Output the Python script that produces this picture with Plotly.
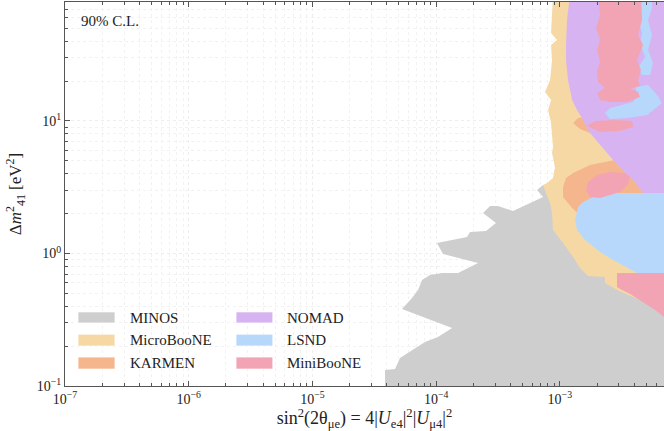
import numpy as np
import plotly.graph_objects as go

# ---- Data: region outlines in log10 units (x = log10 sin^2(2theta_mue), y = log10 dm41^2 / eV^2)
minos_lx = [-4.413, -4.413, -4.332, -4.292, -4.090, -3.985, -3.871, -4.276, -4.195, -4.146, -4.114,
            -4.049, -3.952, -3.823, -3.661, -3.944, -3.993, -3.750, -3.726, -3.597, -3.516, -3.621,
            -3.564, -3.500, -3.378, -3.136, -3.184, -3.136, -2.0, -2.0]
minos_ly = [-1.05, -0.879, -0.872, -0.789, -0.668, -0.630, -0.562, -0.419, -0.336, -0.275, -0.200,
            -0.162, -0.147, -0.147, -0.072, -0.004, 0.079, 0.125, 0.162, 0.170, 0.230, 0.306,
            0.358, 0.358, 0.321, 0.426, 0.479, 0.517, 0.517, -1.05]

microboone_lx = [-3.055, -3.063, -3.071, -3.023, -3.071, -3.063, -3.079, -3.120, -3.071, -3.095, -3.071,
                 -3.055, -3.063, -3.039, -3.055, -3.103, -3.136, -3.112, -3.079, -3.063, -3.055, -2.974,
                 -2.893, -2.837, -2.796, -2.772, -2.635, -2.635, -2.538, -2.352, -2.0, -2.0]
microboone_ly = [1.95, 1.838, 1.664, 1.611, 1.574, 1.460, 1.309, 1.219, 1.158, 1.083, 0.985,
                 0.804, 0.758, 0.653, 0.570, 0.532, 0.517, 0.457, 0.381, 0.306, 0.177, 0.079,
                 -0.026, -0.109, -0.147, -0.170, -0.177, -0.223, -0.275, -0.351, -0.351, 1.95]

karmen_low_lx = [-2.974, -2.950, -2.893, -2.756, -2.635, -2.554, -2.0, -2.0, -2.756, -2.861, -2.901, -2.974]
karmen_low_ly = [0.502, 0.570, 0.608, 0.668, 0.691, 0.706, 0.706, 0.215, 0.215, 0.306, 0.343, 0.426]
karmen_up_lx = [-2.893, -2.853, -2.756, -2.594, -2.594, -2.756, -2.837]
karmen_up_ly = [0.985, 1.023, 1.038, 1.023, 0.917, 0.909, 0.940]

nomad_lx = [-2.918, -2.942, -2.950, -2.950, -2.934, -2.901, -2.861, -2.812, -2.756, -2.675, -2.570,
            -2.473, -2.408, -2.327, -2.0, -2.0]
nomad_ly = [1.95, 1.762, 1.574, 1.460, 1.309, 1.158, 1.083, 1.008, 0.909, 0.819, 0.706,
            0.608, 0.555, 0.457, 0.457, 1.95]

lsnd_low_lx = [-2.594, -2.699, -2.812, -2.853, -2.877, -2.861, -2.796, -2.675, -2.570, -2.457, -2.376,
               -2.0, -2.0]
lsnd_low_ly = [0.457, 0.442, 0.389, 0.351, 0.253, 0.177, 0.102, 0.011, -0.049, -0.109, -0.147,
               -0.147, 0.457]
lsnd_strip_lx = [-2.352, -2.368, -2.335, -2.352, -2.311, -2.368, -2.335, -2.271, -2.247, -2.287,
                 -2.255, -2.287, -2.255, -2.255]
lsnd_strip_ly = [1.95, 1.762, 1.664, 1.589, 1.483, 1.400, 1.347, 1.347, 1.438, 1.536,
                 1.649, 1.762, 1.853, 1.95]
lsnd_blob_lx = [-2.635, -2.594, -2.408, -2.368, -2.392, -2.287, -2.214, -2.174, -2.295, -2.457, -2.594]
lsnd_blob_ly = [1.060, 1.098, 1.143, 1.196, 1.257, 1.272, 1.196, 1.136, 1.045, 1.023, 1.015]

miniboone_col_lx = [-2.691, -2.675, -2.707, -2.675, -2.699, -2.675, -2.699, -2.691, -2.635, -2.699,
                    -2.675, -2.594, -2.457, -2.352, -2.368, -2.432, -2.352, -2.368, -2.344, -2.376,
                    -2.327, -2.368, -2.335, -2.344]
miniboone_col_ly = [1.95, 1.800, 1.702, 1.611, 1.536, 1.445, 1.370, 1.294, 1.249, 1.211,
                    1.158, 1.143, 1.143, 1.181, 1.219, 1.242, 1.264, 1.309, 1.385, 1.460,
                    1.574, 1.649, 1.762, 1.95]
miniboone_mid_lx = [-2.780, -2.715, -2.554, -2.416, -2.408, -2.513, -2.675]
miniboone_mid_ly = [0.962, 1.000, 1.008, 1.000, 0.955, 0.925, 0.917]
miniboone_low_lx = [-2.788, -2.772, -2.699, -2.594, -2.473, -2.432, -2.449, -2.513, -2.675, -2.756]
miniboone_low_ly = [0.479, 0.540, 0.592, 0.615, 0.608, 0.577, 0.517, 0.464, 0.419, 0.426]
miniboone_br_lx = [-2.538, -2.0, -2.0, -2.158, -2.230, -2.352, -2.432, -2.513, -2.538]
miniboone_br_ly = [-0.147, -0.147, -0.479, -0.479, -0.426, -0.351, -0.306, -0.268, -0.253]

x_tick_vals = [1e-7, 1e-6, 1e-5, 1e-4, 1e-3]
x_tick_text = ["10<sup>−7</sup>", "10<sup>−6</sup>", "10<sup>−5</sup>", "10<sup>−4</sup>", "10<sup>−3</sup>"]
y_tick_vals = [0.1, 1, 10]
y_tick_text = ["10<sup>−1</sup>", "10<sup>0</sup>", "10<sup>1</sup>"]

experiments = [
    ("MINOS", "#cecece", [(minos_lx, minos_ly)]),
    ("MicroBooNE", "#f6d8a5", [(microboone_lx, microboone_ly)]),
    ("KARMEN", "#f5b68d", [(karmen_low_lx, karmen_low_ly), (karmen_up_lx, karmen_up_ly)]),
    ("NOMAD", "#d7b4f1", [(nomad_lx, nomad_ly)]),
    ("LSND", "#b8d8fb", [(lsnd_low_lx, lsnd_low_ly), (lsnd_strip_lx, lsnd_strip_ly),
                         (lsnd_blob_lx, lsnd_blob_ly)]),
    ("MiniBooNE", "#f2a4b5", [(miniboone_col_lx, miniboone_col_ly), (miniboone_mid_lx, miniboone_mid_ly),
                              (miniboone_low_lx, miniboone_low_ly), (miniboone_br_lx, miniboone_br_ly)]),
]

legend_order = [["MINOS", "MicroBooNE", "KARMEN"], ["NOMAD", "LSND", "MiniBooNE"]]

FONT = "Liberation Serif"
fig = go.Figure()
for name, color, parts in experiments:
    for i, (lx, ly) in enumerate(parts):
        fig.add_trace(go.Scatter(
            x=np.power(10.0, lx), y=np.power(10.0, ly), mode="lines",
            fill="toself", fillcolor=color, line=dict(width=0, color=color),
            name=name, legendgroup=name, showlegend=False, hoverinfo="name"))

# manual legend (wide swatches like the reference)
colors = {n: c for n, c, _ in experiments}
col_x = [(0.0217, 0.0835, 0.105), (0.2855, 0.347, 0.367)]
row_y = [(0.164, 0.193, 0.178), (0.104, 0.135, 0.120), (0.044, 0.0755, 0.060)]
for ci, names in enumerate(legend_order):
    for ri, n in enumerate(names):
        x0, x1, xt = col_x[ci]
        y0, y1, yt = row_y[ri]
        fig.add_shape(type="rect", xref="paper", yref="paper", x0=x0, x1=x1, y0=y0, y1=y1,
                      fillcolor=colors[n], line=dict(width=1, color="rgba(255,255,255,0.8)"))
        fig.add_annotation(xref="paper", yref="paper", x=xt, y=yt, text=n, showarrow=False,
                           xanchor="left", yanchor="middle", font=dict(family=FONT, size=15, color="#222"))

fig.add_annotation(xref="paper", yref="paper", x=0.023, y=0.95, text="90% C.L.", showarrow=False,
                   xanchor="left", yanchor="middle", font=dict(family=FONT, size=15, color="#222"))

minor_x = [m * 10.0 ** e for e in range(-7, -2) for m in range(2, 10)]
minor_y = [m * 10.0 ** e for e in range(-1, 2) for m in range(2, 10)]

axis_common = dict(type="log", tickmode="array",
                   showline=True, linecolor="#555", linewidth=1, ticks="inside", ticklen=5,
                   tickcolor="#555", showgrid=True, gridcolor="#ededed", griddash="dot",
                   tickfont=dict(family=FONT, size=14, color="#222"), zeroline=False)

fig.update_xaxes(range=[-7, -2.158], mirror="ticks", tickvals=x_tick_vals, ticktext=x_tick_text,
                 minor=dict(tickmode="array", tickvals=minor_x, ticks="inside", ticklen=3,
                            tickcolor="#555", showgrid=True, gridcolor="#f2f2f2", griddash="dot"),
                 title=dict(text="sin<sup>2</sup>(2θ<sub>μe</sub>) = 4|<i>U</i><sub>e4</sub>|<sup>2</sup>|<i>U</i><sub>μ4</sub>|<sup>2</sup>",
                            font=dict(family=FONT, size=18, color="#222"), standoff=3),
                 **axis_common)
fig.update_yaxes(range=[-1, 1.898], mirror=False, tickvals=y_tick_vals, ticktext=y_tick_text,
                 minor=dict(tickmode="array", tickvals=minor_y, ticks="inside", ticklen=3,
                            tickcolor="#555", showgrid=True, gridcolor="#f2f2f2", griddash="dot"),
                 title=dict(text="Δ<i>m</i><sup>2</sup><sub>41</sub> [eV<sup>2</sup>]",
                            font=dict(family=FONT, size=17, color="#222"), standoff=10),
                 **axis_common)

fig.update_layout(width=664, height=431, margin=dict(l=65, r=0, t=2, b=45, autoexpand=False),
                  paper_bgcolor="white", plot_bgcolor="white", showlegend=False)

fig.write_html("out.html", config={"displayModeBar": False},
               post_script="document.body.style.margin='0';")
